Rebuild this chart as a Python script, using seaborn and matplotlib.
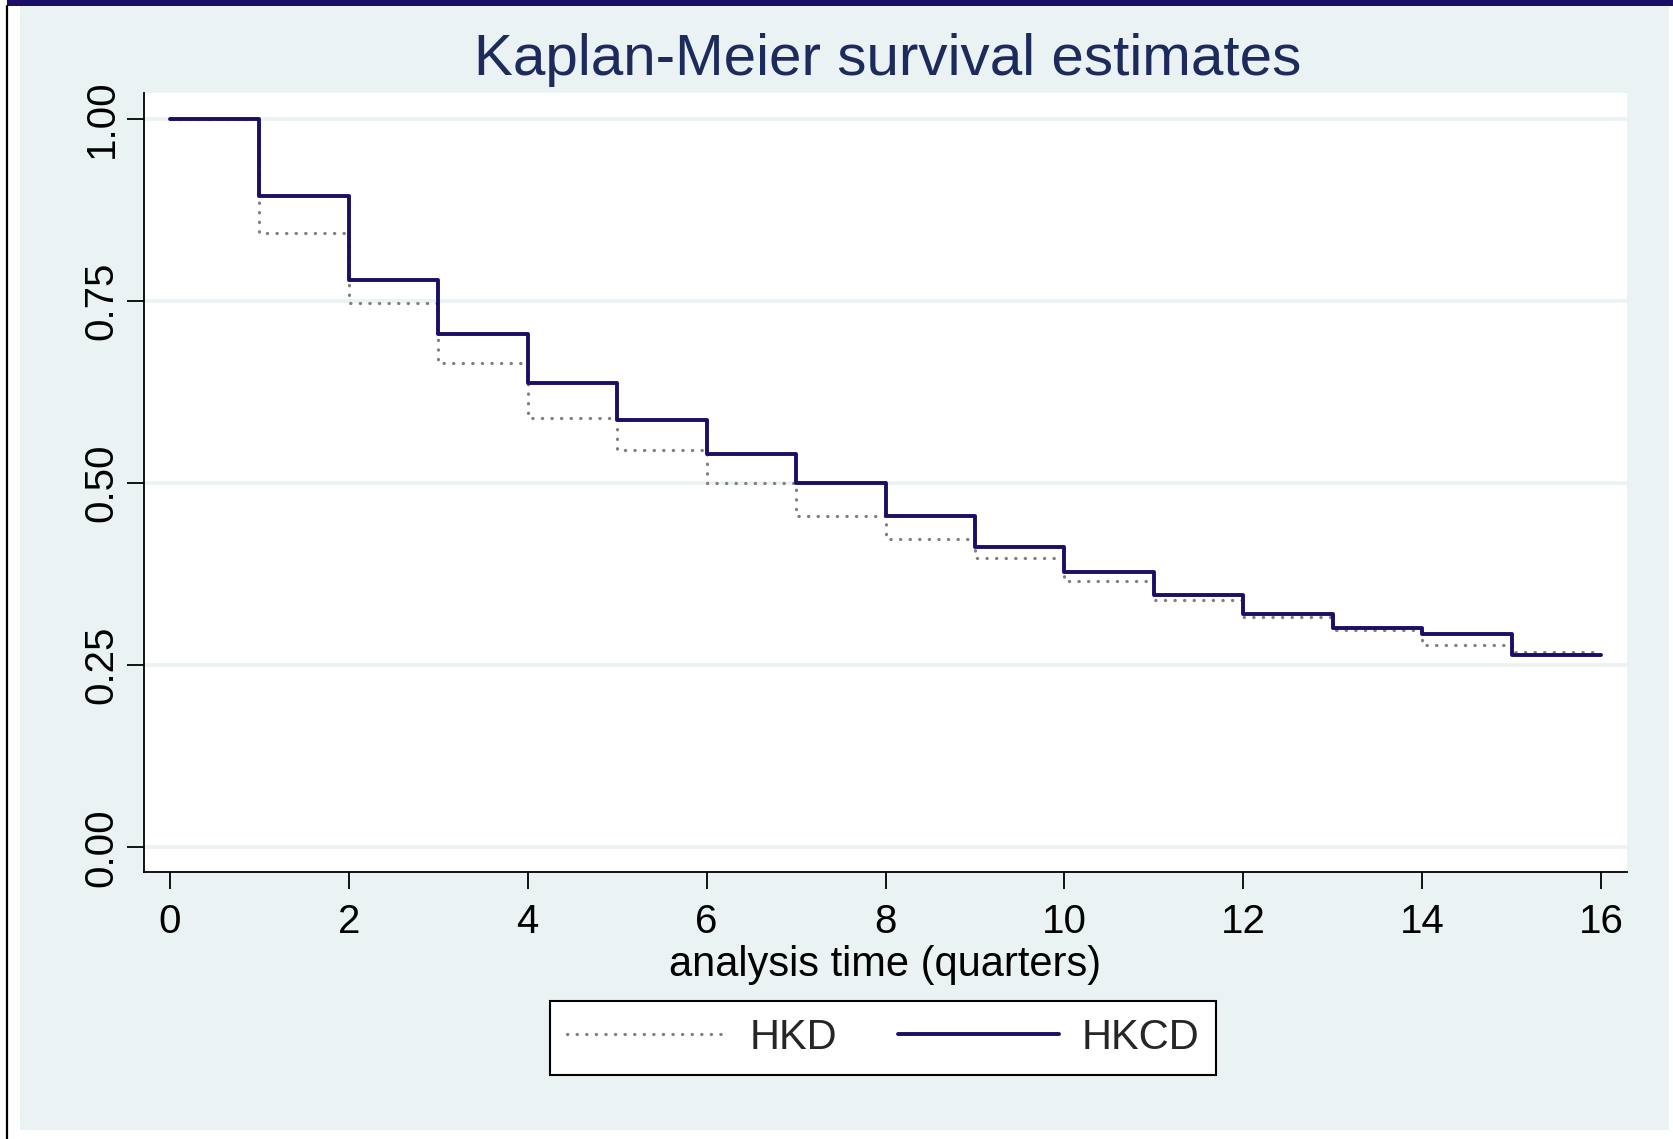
import numpy as np
import pandas as pd
import matplotlib
matplotlib.use('Agg')
import matplotlib.pyplot as plt
from matplotlib.lines import Line2D
from matplotlib.patches import Rectangle
import seaborn as sns

# ── данные ───────────────────────────────────────────────────────────────
quarters = list(range(17))
hkd_surv = [1.000, 0.843, 0.747, 0.665, 0.589, 0.545, 0.500, 0.455, 0.423,
            0.397, 0.365, 0.339, 0.316, 0.298, 0.278, 0.268, 0.268]
hkcd_surv = [1.000, 0.893, 0.778, 0.704, 0.637, 0.586, 0.539, 0.500, 0.455,
             0.412, 0.378, 0.346, 0.320, 0.301, 0.292, 0.264, 0.264]
group_names = ['HKD', 'HKCD']
y_ticks = [0.00, 0.25, 0.50, 0.75, 1.00]
y_tick_labels = ['0.00', '0.25', '0.50', '0.75', '1.00']
x_ticks = list(range(0, 17, 2))

panel_bg = '#eaf2f3'
navy = '#1b0e66'
grey = '#7f7f7f'
title_col = '#1c2a5c'

sns.set_theme(style='ticks')
plt.rcParams['font.family'] = ['Liberation Sans', 'DejaVu Sans']

W, H = 1673, 1139
fig = plt.figure(figsize=(W / 100, H / 100), dpi=100)
fig.patch.set_facecolor('white')

# фон в стиле Stata + рамки скриншота
fig.add_artist(Rectangle((20 / W, 1 - 1130 / H), (1669 - 20) / W, (1130 - 6) / H,
                         transform=fig.transFigure, facecolor=panel_bg,
                         edgecolor='none', zorder=0))
fig.add_artist(Rectangle((7 / W, 1 - 6 / H), 1, 6 / H, transform=fig.transFigure,
                         facecolor=navy, edgecolor='none', zorder=1))
fig.add_artist(Line2D([6.5 / W, 6.5 / W], [0, 1 - 6 / H], transform=fig.transFigure,
                      color='black', lw=1.6, zorder=1))

ax = fig.add_axes([144 / W, 1 - 872 / H, (1627 - 144) / W, (872 - 93) / H])
ax.set_facecolor('white')

df_hkd = pd.DataFrame({'quarter': quarters, 'survival': hkd_surv})
df_hkcd = pd.DataFrame({'quarter': quarters, 'survival': hkcd_surv})

sns.lineplot(data=df_hkd, x='quarter', y='survival', ax=ax, color=grey, lw=2.3,
             linestyle=(0, (0.1, 2.9)), dash_capstyle='round',
             drawstyle='steps-post', legend=False, zorder=3)
sns.lineplot(data=df_hkcd, x='quarter', y='survival', ax=ax, color=navy, lw=2.8,
             drawstyle='steps-post', legend=False, zorder=4)

ax.set_xlim(-0.29, 16.29)
ax.set_ylim(-0.034, 1.035)
ax.set_xticks(x_ticks)
ax.set_yticks(y_ticks)
ax.set_yticklabels(y_tick_labels, rotation=90, va='center')
ax.yaxis.grid(True, color=panel_bg, lw=2.6)
ax.set_axisbelow(True)

for s in ['top', 'right']:
    ax.spines[s].set_visible(False)
for s in ['left', 'bottom']:
    ax.spines[s].set_color('black')
    ax.spines[s].set_linewidth(1.3)

ax.tick_params(axis='both', direction='out', length=12, width=1.3, color='black',
               labelsize=29, labelcolor='black')
ax.tick_params(axis='x', pad=10)
ax.tick_params(axis='y', pad=5)

ax.set_xlabel('analysis time (quarters)', fontsize=30, color='black', labelpad=3)
ax.set_ylabel('')

fig.text(888 / W, 1 - 60 / H, 'Kaplan-Meier survival estimates', ha='center',
         va='center', fontsize=42, color=title_col)

handles = [
    Line2D([], [], color=grey, lw=2.3, linestyle=(0, (0.1, 2.9)), dash_capstyle='round'),
    Line2D([], [], color=navy, lw=2.8),
]
leg = fig.legend(handles, group_names, loc='center',
                 bbox_to_anchor=(883 / W, 1 - 1038 / H), ncol=2, frameon=True,
                 fancybox=False, edgecolor='black', framealpha=1, fontsize=30,
                 handlelength=3.85, handletextpad=0.55, columnspacing=1.45,
                 borderpad=0.4)
leg.get_frame().set_linewidth(1.5)
leg.get_frame().set_facecolor('white')

plt.savefig('out.png', dpi=100)
plt.close()
